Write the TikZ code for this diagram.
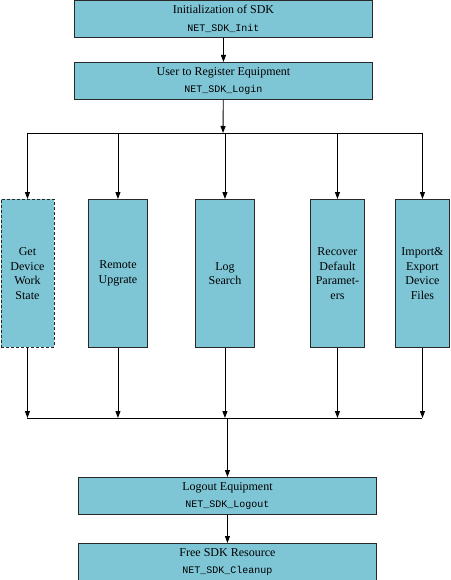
\documentclass[tikz,border=0pt]{standalone}
\usepackage{fontspec}
\setmainfont{Liberation Serif}
\setmonofont{Liberation Mono}
\usetikzlibrary{arrows.meta}
\definecolor{boxfill}{RGB}{126,198,214}
\definecolor{boxline}{RGB}{40,40,40}
\tikzset{
  wide/.style={draw=boxline, fill=boxfill, line width=0.9pt, minimum width=298pt, minimum height=37pt, inner sep=0pt, align=center, anchor=north west, font=\fontsize{12}{14.5}\selectfont},
  tall/.style={draw=boxline, fill=boxfill, line width=0.9pt, minimum height=148pt, inner sep=0pt, align=center, anchor=north west, font=\fontsize{12}{14.5}\selectfont},
  arr/.style={-{Triangle[length=7pt,width=5pt]}, line width=0.9pt},
  ln/.style={line width=0.9pt},
}
\newcommand{\apicall}[1]{{\ttfamily\fontsize{10}{10}\selectfont #1}}
\begin{document}
\begin{tikzpicture}[x=1pt,y=-1pt]
\useasboundingbox (0,0) rectangle (450,580);
\node[wide] (init) at (74,0) {Initialization of SDK\\[3pt]\apicall{NET\_SDK\_Init}};
\node[wide] (login) at (74,62) {User to Register Equipment\\[3pt]\apicall{NET\_SDK\_Login}};
\node[tall, dashed, dash pattern=on 3pt off 2pt, minimum width=53pt] (a) at (0.5,199) {Get\\Device\\Work\\State};
\node[tall, minimum width=59pt] (b) at (88,199) {Remote\\Upgrate};
\node[tall, minimum width=59pt] (c) at (195,199) {Log\\Search};
\node[tall, minimum width=54pt] (d) at (310,199) {Recover\\Default\\Paramet-\\ers};
\node[tall, minimum width=54pt] (e) at (395,199) {Import\&\\Export\\Device\\Files};
\node[wide] (logout) at (78,477) {Logout Equipment\\[3pt]\apicall{NET\_SDK\_Logout}};
\node[wide] (cleanup) at (78,543) {Free SDK Resource\\[3pt]\apicall{NET\_SDK\_Cleanup}};
\coordinate (t) at (223,133);
\coordinate (bb) at (227,418);
\draw[arr] (init) -- (login);
\draw[arr] (login) -- (t);
\draw[ln] (a.north |- t) -- (e.north |- t);
\foreach \n in {a,b,c,d,e} {
  \draw[arr] (\n.north |- t) -- (\n.north);
  \draw[arr] (\n.south) -- (\n.south |- bb);
}
\draw[ln] (a.south |- bb) -- (e.south |- bb);
\draw[arr] (logout.north |- bb) -- (logout.north);
\draw[arr] (logout) -- (cleanup);
\end{tikzpicture}
\end{document}
